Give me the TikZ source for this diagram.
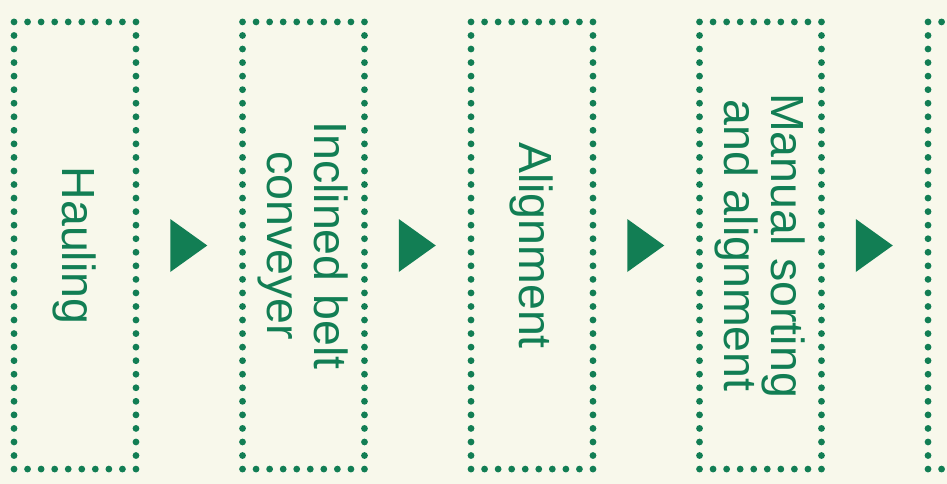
\documentclass[tikz,border=0pt]{standalone}
\usepackage{fontspec}
\setmainfont{Liberation Sans}
\usetikzlibrary{calc}
\definecolor{flowgreen}{RGB}{18,126,84}
\definecolor{bgcream}{RGB}{248,248,235}
\begin{document}
\begin{tikzpicture}[x=1pt,y=-1pt,
  stagebox/.style={draw=flowgreen, line width=6.8pt, line cap=round,
    dash pattern=on 0pt off 13.55pt, rotate=-90,
    minimum width=447.15pt, minimum height=121.95pt, inner sep=0pt,
    text=flowgreen, font=\fontsize{46.5}{47}\selectfont, align=center},
  flowarrow/.style={fill=flowgreen}]
\fill[bgcream] (0,0) rectangle (947,484);
\useasboundingbox (0,0) rectangle (947,484);
\clip (0,0) rectangle (947,484);
\node[stagebox] (s1) at (75,245.5) {Hauling};
\node[stagebox] (s2) at (303.5,245.5) {Inclined belt\\conveyer};
\node[stagebox] (s3) at (532,245.5) {Alignment};
\node[stagebox] (s4) at (760.5,245.5) {Manual sorting\\and alignment};
\node[stagebox] (s5) at (989,245.5) {};
\foreach \a/\b/\n in {s1/s2/a1, s2/s3/a2, s3/s4/a3, s4/s5/a4} {
  \coordinate (\n) at ($(\a.center)!0.5!(\b.center)$);
  \fill[flowarrow] ($(\n)+(-19,-26.5)$) -- ($(\n)+(18,0)$) -- ($(\n)+(-19,26.5)$) -- cycle;
}
\end{tikzpicture}
\end{document}
